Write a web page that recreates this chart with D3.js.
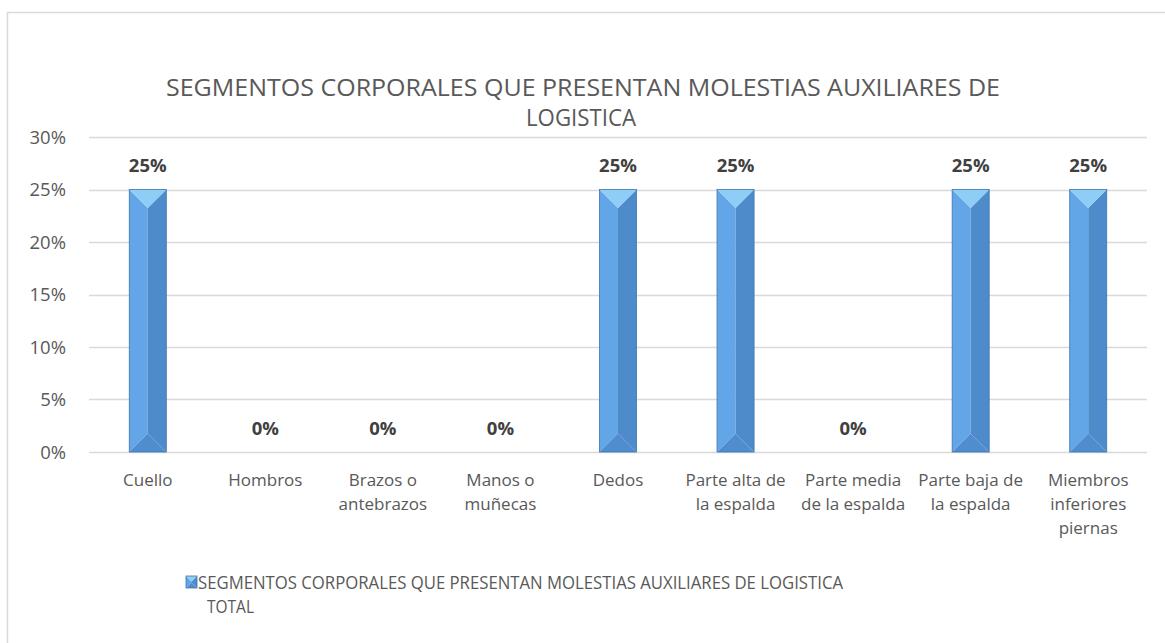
<!DOCTYPE html>
<html>
<head>
<meta charset="utf-8">
<script src="https://cdn.jsdelivr.net/npm/d3@7"></script>
<style>
  html, body { margin: 0; padding: 0; background: #fff; }
  svg { display: block; }
  text { font-family: "Open Sans", Carlito, Calibri, Lato, sans-serif; }
</style>
</head>
<body>
<svg id="chart" width="1165" height="643"></svg>
<script>
const categories = [
  ["Cuello"],
  ["Hombros"],
  ["Brazos o", "antebrazos"],
  ["Manos o", "muñecas"],
  ["Dedos"],
  ["Parte alta de", "la espalda"],
  ["Parte media", "de la espalda"],
  ["Parte baja de", "la espalda"],
  ["Miembros", "inferiores", "piernas"]
];
const values = [0.25, 0, 0, 0, 0.25, 0.25, 0, 0.25, 0.25];
const yTicks = [0, 0.05, 0.10, 0.15, 0.20, 0.25, 0.30];
const titleLines = ["SEGMENTOS CORPORALES QUE PRESENTAN MOLESTIAS AUXILIARES DE", "LOGISTICA"];
const legendLines = ["SEGMENTOS CORPORALES QUE PRESENTAN MOLESTIAS AUXILIARES DE LOGISTICA", "TOTAL"];

const svg = d3.select("#chart");
const W = 1165, H = 643;
const plot = { left: 89, right: 1147, top: 137, bottom: 452 };
const FONT = "\"Open Sans\", Carlito, Calibri, Lato, sans-serif";

// chart border
svg.append("rect").attr("x", 7.5).attr("y", 12.5).attr("width", W + 10).attr("height", H + 10)
  .attr("fill", "#fff").attr("stroke", "#d9d9d9").attr("stroke-width", 1.5);

const x = d3.scaleBand().domain(d3.range(categories.length))
  .range([plot.left, plot.right]).paddingInner(0.685).paddingOuter(0.3425);
const y = d3.scaleLinear().domain([0, 0.30]).range([plot.bottom, plot.top]);

// gridlines
svg.append("g").selectAll("line").data(yTicks).join("line")
  .attr("x1", plot.left).attr("x2", plot.right)
  .attr("y1", d => Math.round(y(d)) + 0.5).attr("y2", d => Math.round(y(d)) + 0.5)
  .attr("stroke", "#d9d9d9").attr("stroke-width", 1.3);

// y axis labels
const yAxis = d3.axisLeft(y).tickValues(yTicks).tickFormat(d3.format(".0%")).tickSize(0).tickPadding(0);
const gy = svg.append("g").attr("transform", `translate(66,0)`).call(yAxis);
gy.select(".domain").remove();
gy.selectAll("text").attr("font-size", 18.5).attr("fill", "#595959")
  .attr("font-family", FONT).attr("dy", "0.35em");

// bars with bevel
function bevel(g, x0, y0, w, h) {
  const x1 = x0 + w, y1 = y0 + h, cx = x0 + w / 2, d = Math.min(w / 2, h / 2);
  const faces = [
    { p: [[x0, y0], [cx, y0 + d], [cx, y1 - d], [x0, y1]], c: "#63a6e8" },
    { p: [[x1, y0], [cx, y0 + d], [cx, y1 - d], [x1, y1]], c: "#4e8bcb" },
    { p: [[x0, y0], [x1, y0], [cx, y0 + d]], c: "#8ecdf6" },
    { p: [[x0, y1], [x1, y1], [cx, y1 - d]], c: "#4f8dce" }
  ];
  faces.forEach(f => g.append("polygon").attr("points", f.p.map(q => q.join(",")).join(" ")).attr("fill", f.c));
  g.append("rect").attr("x", x0).attr("y", y0).attr("width", w).attr("height", h)
    .attr("fill", "none").attr("stroke", "#3e74ae").attr("stroke-width", 0.8);
}
const barsG = svg.append("g");
values.forEach((v, i) => {
  if (v > 0) {
    const g = barsG.append("g");
    bevel(g, x(i), y(v), x.bandwidth(), y(0) - y(v));
  }
});

// data labels
svg.append("g").selectAll("text").data(values).join("text")
  .attr("x", (d, i) => x(i) + x.bandwidth() / 2)
  .attr("y", d => y(d) - 17.5)
  .attr("text-anchor", "middle").attr("font-size", 18.5).attr("font-weight", "bold")
  .attr("fill", "#404040")
  .text(d => d3.format(".0%")(d));

// category labels
const xl = svg.append("g");
categories.forEach((lines, i) => {
  const t = xl.append("text").attr("text-anchor", "middle").attr("font-size", 17).attr("fill", "#595959");
  lines.forEach((ln, j) => {
    t.append("tspan").attr("x", x(i) + x.bandwidth() / 2).attr("y", 485.5 + j * 24).text(ln);
  });
});

// title
svg.append("text").attr("x", 583).attr("y", 96).attr("text-anchor", "middle")
  .attr("font-size", 24).attr("fill", "#595959")
  .attr("textLength", 834).attr("lengthAdjust", "spacingAndGlyphs").text(titleLines[0]);
svg.append("text").attr("x", 581).attr("y", 126).attr("text-anchor", "middle")
  .attr("font-size", 24).attr("fill", "#595959")
  .attr("textLength", 110).attr("lengthAdjust", "spacingAndGlyphs").text(titleLines[1]);

// legend
const lg = svg.append("g");
bevel(lg, 186, 576, 11, 12);
lg.append("text").attr("x", 198).attr("y", 589).attr("font-size", 19).attr("fill", "#595959")
  .attr("textLength", 645).attr("lengthAdjust", "spacingAndGlyphs").text(legendLines[0]);
lg.append("text").attr("x", 207).attr("y", 613).attr("font-size", 19).attr("fill", "#595959")
  .attr("textLength", 47).attr("lengthAdjust", "spacingAndGlyphs").text(legendLines[1]);
</script>
</body>
</html>
